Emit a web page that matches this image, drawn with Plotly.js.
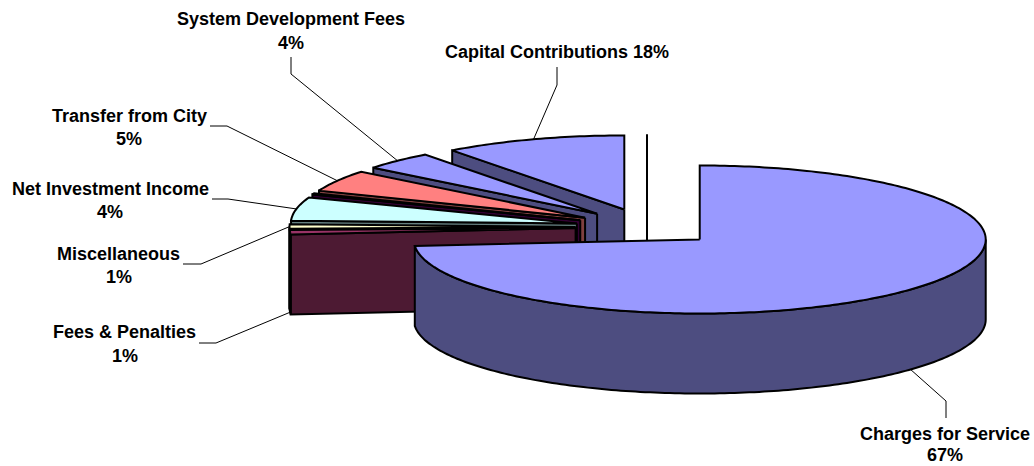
<!DOCTYPE html>
<html>
<head>
<meta charset="utf-8">
<script src="https://cdn.plot.ly/plotly-3.0.1.min.js"></script>
<style>html,body{margin:0;padding:0;background:#fff}#chart{width:1034px;height:466px}</style>
</head>
<body>
<div id="chart"></div>
<script>
// ---- data (clockwise from 12 o'clock) ----
const sliceNames = ["Charges for Service","Fees & Penalties","Miscellaneous","Net Investment Income","(unlabelled)","Transfer from City","System Development Fees","Capital Contributions","(empty)"];
const sharePercent = [67,1,1,4,0,5,4,18,0];
const drawnSweepDeg = [265,3.5,3.5,18.5,1,17,14.5,37,0];
const topColors = ["#9999FF","#993366","#FFFFCC","#CCFFFF","#660066","#FF8080","#9999FF","#9999FF","#FFFFFF"];
const wallColors = ["#4D4D80","#4D1A33","#808066","#668080","#330033","#804040","#4D4D80","#4D4D80","#808080"];

// ---- drawing geometry of the tilted pie ----
const centre = {x:647, y:227};
const radiusX = 286, radiusY = 74, depth = 80, explode = 0.25;
const paintOrder = [8,7,6,5,4,3,2,1,0];
const edge = {color:"#000", width:2};

// label placement: text lines, leader elbow and leader tail, page pixels
const labelPlacement = {
  0:{lines:[["Charges for Service",944.5,434],["67%",944.5,455]], elbow:[946,401], tail:[946,418], onBase:true},
  1:{lines:[["Fees & Penalties",124.5,331.5],["1%",124.5,355.5]], elbow:[216,343], tail:[199,343], onBase:true},
  2:{lines:[["Miscellaneous",118.5,253.5],["1%",118.5,276.5]], elbow:[201,264], tail:[183,264]},
  3:{lines:[["Net Investment Income",110,188.5],["4%",110,211.5]], elbow:[228,199], tail:[212,199]},
  5:{lines:[["Transfer from City",129,115.5],["5%",129,138.5]], elbow:[227,126], tail:[210,126]},
  6:{lines:[["System Development Fees",290.5,18.5],["4%",290.5,42.5]], elbow:[291,74], tail:[291,57]},
  7:{lines:[["Capital Contributions 18%",557,51.5]], elbow:[557,85], tail:[557,67]}
};

const rad = d => d*Math.PI/180;
const unit = a => [radiusX*Math.sin(rad(a)), -radiusY*Math.cos(rad(a))];

let acc = 0;
const slices = drawnSweepDeg.map((s,i)=>{
  const start = acc, end = acc+s; acc = end;
  const m = unit((start+end)/2);
  return {i,start,end,mid:(start+end)/2,ax:centre.x+explode*m[0],ay:centre.y+explode*m[1]};
});
function arc(s,a0,a1,dy){
  const n = Math.max(1,Math.ceil(Math.abs(a1-a0)));
  const xs=[],ys=[];
  for(let k=0;k<=n;k++){
    const u = unit(a0+(a1-a0)*k/n);
    xs.push(s.ax+u[0]); ys.push(s.ay+u[1]+dy);
  }
  return [xs,ys];
}
function poly(xs,ys,fill){
  return {type:"scatter",mode:"lines",x:xs,y:ys,fill:"toself",fillcolor:fill,
          line:{color:edge.color,width:edge.width,simplify:false},hoverinfo:"skip",showlegend:false};
}
const traces = [];
paintOrder.forEach(i=>{
  const s = slices[i];
  // cut face along the starting edge, visible for slices on the far left/back
  if(s.start>=180){
    const u = unit(s.start);
    traces.push(poly([s.ax,s.ax+u[0],s.ax+u[0],s.ax,s.ax],
                     [s.ay,s.ay+u[1],s.ay+u[1]+depth,s.ay+depth,s.ay],wallColors[i]));
  }
  // outer rim
  const r0 = Math.max(s.start,90), r1 = Math.min(s.end,270);
  if(r1>r0){
    const t = arc(s,r0,r1,0), b = arc(s,r1,r0,depth);
    traces.push(poly(t[0].concat(b[0],[t[0][0]]),t[1].concat(b[1],[t[1][0]]),wallColors[i]));
  }
  // top surface
  const a = arc(s,s.start,s.end,0);
  traces.push(poly([s.ax].concat(a[0],[s.ax]),[s.ay].concat(a[1],[s.ay]),topColors[i]));
});

// leader lines start on the slice they label
Object.keys(labelPlacement).forEach(k=>{
  const p = labelPlacement[k], s = slices[k], u = unit(s.mid);
  traces.push({type:"scatter",mode:"lines",
    x:[s.ax+u[0],p.elbow[0],p.tail[0]],
    y:[s.ay+u[1]+(p.onBase?depth:0),p.elbow[1],p.tail[1]],
    line:{color:"#000",width:1,simplify:false},hoverinfo:"skip",showlegend:false});
});

const annotations = [];
Object.values(labelPlacement).forEach(p=>p.lines.forEach(l=>annotations.push({
  text:l[0],x:l[1],y:l[2],xref:"x",yref:"y",xanchor:"center",yanchor:"middle",showarrow:false,
  font:{family:"Liberation Sans, Arial, sans-serif",size:18,color:"#000",weight:700}
})));

const hiddenAxis = {visible:false,fixedrange:true,showgrid:false,zeroline:false};
Plotly.newPlot("chart",traces,{
  width:1034,height:466,margin:{l:0,r:0,t:0,b:0},
  paper_bgcolor:"#fff",plot_bgcolor:"#fff",showlegend:false,
  xaxis:Object.assign({range:[0,1034]},hiddenAxis),
  yaxis:Object.assign({range:[466,0]},hiddenAxis),
  annotations:annotations
},{displayModeBar:false,staticPlot:true});
</script>
</body>
</html>
